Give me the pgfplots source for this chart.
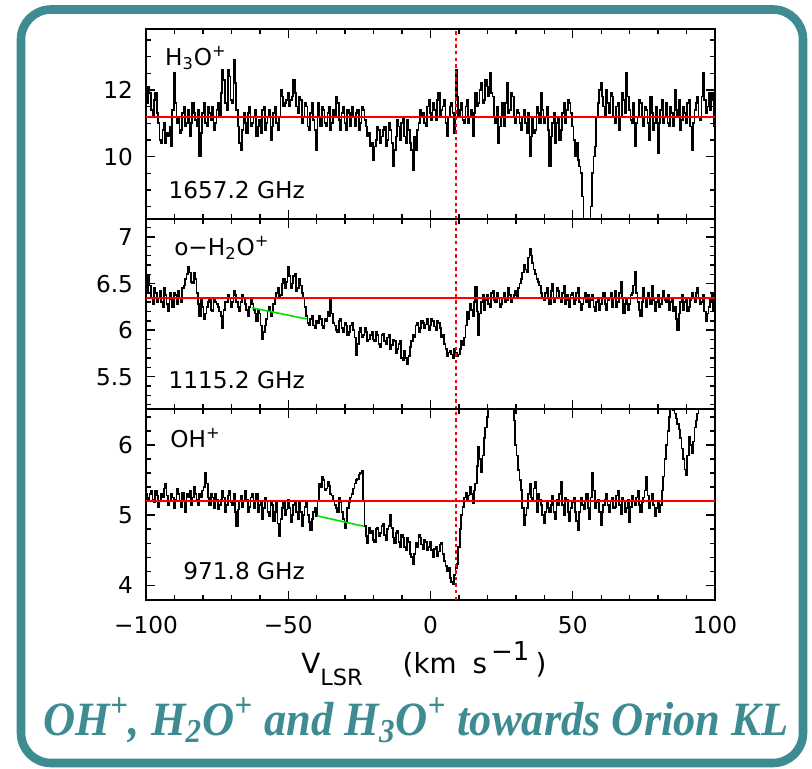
\documentclass[border=0pt]{standalone}
\usepackage{pgfplots}
\pgfplotsset{compat=1.18}
\usepackage{pgfplotstable}
\usepackage{fontspec}
\setmainfont{DejaVu Sans}
\newfontfamily\titlefont{Liberation Serif}[FakeStretch=0.93]
\definecolor{frameteal}{RGB}{62,140,146}
\definecolor{specgreen}{RGB}{0,225,0}
\definecolor{specred}{RGB}{255,0,0}

\pgfplotstableread{
x h3o h2o oh
-100 11.8 6.50 5.30
-99.5 11.6 6.40 5.25
-99 12.1 6.58 5.22
-98.5 11.9 6.48 5.30
-98 11.4 6.35 5.35
-97.5 11.2 6.28 5.22
-97 11.7 6.45 5.18
-96.5 11.9 6.40 5.35
-96 11.3 6.30 5.28
-95.5 11.0 6.35 5.12
-95 10.5 6.42 5.20
-94.5 10.4 6.30 5.30
-94 10.8 6.25 5.25
-93.5 11.0 6.45 5.38
-93 10.4 6.38 5.45
-92.5 10.7 6.28 5.28
-92 10.6 6.20 5.15
-91.5 10.9 6.40 5.20
-91 10.3 6.33 5.30
-90.5 11.4 6.25 5.25
-90 12.5 6.40 5.10
-89.5 11.6 6.38 5.22
-89 11.0 6.28 5.38
-88.5 11.2 6.42 5.30
-88 10.7 6.35 5.20
-87.5 10.8 6.30 5.12
-87 11.3 6.45 5.32
-86.5 11.5 6.48 5.20
-86 10.9 6.55 5.05
-85.5 11.0 6.60 5.30
-85 11.4 6.68 5.25
-84.5 10.6 6.62 5.35
-84 11.0 6.52 5.15
-83.5 11.6 6.50 5.25
-83 11.3 6.62 5.40
-82.5 11.1 6.55 5.30
-82 10.9 6.40 5.22
-81.5 11.4 6.28 5.15
-81 10.0 6.15 5.30
-80.5 10.7 6.32 5.25
-80 11.3 6.25 5.35
-79.5 11.6 6.12 5.40
-79 11.0 6.18 5.60
-78.5 10.9 6.25 5.45
-78 11.5 6.30 5.25
-77.5 11.3 6.35 5.15
-77 11.1 6.22 5.30
-76.5 11.5 6.20 5.25
-76 10.8 6.35 5.10
-75.5 11.0 6.30 5.30
-75 11.4 6.28 5.22
-74.5 11.6 6.25 5.08
-74 11.2 6.20 5.15
-73.5 11.9 6.15 5.22
-73 12.6 6.02 5.35
-72.5 12.3 6.22 5.25
-72 11.6 6.30 5.05
-71.5 11.4 6.30 5.15
-71 12.6 6.38 5.28
-70.5 12.4 6.35 5.35
-70 11.7 6.25 5.18
-69.5 11.6 6.30 5.15
-69 12.9 6.42 5.30
-68.5 12.2 6.38 5.05
-68 11.4 6.30 4.85
-67.5 10.9 6.25 5.08
-67 10.4 6.20 5.20
-66.5 10.2 6.30 5.28
-66 10.8 6.38 5.12
-65.5 11.3 6.35 5.20
-65 11.0 6.28 5.35
-64.5 10.7 6.22 5.22
-64 11.3 6.15 5.05
-63.5 11.5 6.25 5.12
-63 10.9 6.32 5.25
-62.5 11.0 6.28 5.30
-62 11.2 6.22 5.10
-61.5 11.4 6.18 5.20
-61 10.6 6.10 5.30
-60.5 10.9 6.22 5.05
-60 11.1 6.18 5.15
-59.5 10.7 6.05 5.20
-59 11.4 5.90 4.95
-58.5 11.5 5.98 5.10
-58 10.8 6.05 5.25
-57.5 11.0 6.12 5.20
-57 11.2 6.20 5.05
-56.5 11.4 6.25 4.98
-56 10.5 6.15 5.20
-55.5 10.9 6.20 5.15
-55 11.3 6.28 4.92
-54.5 11.5 6.35 5.05
-54 11.0 6.40 5.18
-53.5 10.8 6.45 4.88
-53 11.2 6.35 4.70
-52.5 12.0 6.38 4.95
-52 11.8 6.50 5.10
-51.5 11.5 6.55 5.18
-51 11.6 6.45 5.00
-50.5 11.7 6.52 5.08
-50 11.9 6.68 5.22
-49.5 11.5 6.58 5.10
-49 11.7 6.45 4.90
-48.5 11.8 6.50 5.00
-48 12.3 6.58 5.15
-47.5 11.9 6.60 5.20
-47 11.5 6.42 5.05
-46.5 11.3 6.45 4.95
-46 11.8 6.55 5.20
-45.5 11.7 6.48 5.05
-45 11.0 6.40 4.85
-44.5 11.2 6.35 5.00
-44 11.6 6.25 5.12
-43.5 11.5 6.15 5.18
-43 10.9 6.08 5.00
-42.5 10.8 6.05 4.90
-42 11.3 6.12 4.78
-41.5 11.6 6.15 4.95
-41 11.1 6.05 5.05
-40.5 10.8 6.02 5.10
-40 10.2 6.10 4.98
-39.5 11.6 6.08 5.20
-39 11.2 6.15 5.45
-38.5 10.9 6.12 5.40
-38 11.5 6.05 5.55
-37.5 11.4 6.02 5.50
-37 11.0 6.12 5.35
-36.5 10.9 6.10 5.38
-36 11.3 6.20 5.48
-35.5 11.5 6.15 5.42
-35 10.8 6.32 5.30
-34.5 11.0 6.18 5.28
-34 11.4 6.08 5.20
-33.5 11.2 6.05 5.15
-33 11.8 6.00 5.10
-32.5 11.6 5.98 5.05
-32 11.1 6.10 5.25
-31.5 10.8 6.12 5.18
-31 11.3 6.02 5.05
-30.5 11.5 5.98 4.95
-30 11.0 6.08 4.82
-29.5 10.8 6.05 4.90
-29 11.4 5.95 5.10
-28.5 11.3 5.98 5.18
-28 10.9 6.05 5.25
-27.5 11.5 6.08 5.30
-27 11.2 6.00 5.38
-26.5 10.9 5.92 5.45
-26 11.3 5.73 5.50
-25.5 11.4 5.85 5.52
-25 10.8 5.98 5.58
-24.5 11.0 6.02 5.60
-24 11.5 5.92 5.63
-23.5 11.4 5.95 5.20
-23 11.1 6.02 4.85
-22.5 10.9 5.98 4.70
-22 10.6 5.88 4.60
-21.5 10.7 5.90 4.82
-21 10.3 5.95 4.75
-20.5 10.4 5.98 4.78
-20 9.9 5.90 4.65
-19.5 10.3 5.88 4.62
-19 10.5 5.98 4.80
-18.5 10.9 5.95 4.82
-18 10.8 5.85 4.70
-17.5 10.4 5.82 4.75
-17 10.6 5.95 4.85
-16.5 10.8 5.96 4.88
-16 10.9 5.88 4.72
-15.5 10.3 5.85 4.65
-15 10.5 5.92 4.80
-14.5 11.0 5.95 4.85
-14 10.8 5.80 5.00
-13.5 10.4 5.84 4.82
-13 9.7 5.90 4.68
-12.5 10.2 5.88 4.60
-12 10.6 5.75 4.75
-11.5 11.1 5.80 4.78
-11 10.9 5.85 4.62
-10.5 10.5 5.88 4.55
-10 11.0 5.70 4.72
-9.5 11.2 5.68 4.68
-9 10.6 5.78 4.55
-8.5 10.4 5.70 4.50
-8 11.1 5.64 4.68
-7.5 10.8 5.72 4.62
-7 10.4 5.82 4.45
-6.5 10.2 5.88 4.40
-6 9.6 5.95 4.30
-5.5 10.6 5.92 4.45
-5 10.2 6.05 4.60
-4.5 10.8 6.08 4.55
-4 11.0 5.98 4.72
-3.5 11.4 6.02 4.68
-3 11.2 6.10 4.58
-2.5 11.3 6.08 4.52
-2 11.0 6.02 4.65
-1.5 10.9 6.06 4.62
-1 11.5 6.12 4.50
-0.5 11.7 6.00 4.55
0 11.3 6.05 4.62
0.5 11.1 6.12 4.50
1 11.6 6.10 4.40
1.5 11.4 6.04 4.52
2 11.1 6.00 4.55
2.5 11.7 6.10 4.42
3 11.9 6.08 4.48
3.5 11.2 6.02 4.58
4 11.4 5.92 4.60
4.5 11.5 5.95 4.45
5 11.7 5.85 4.35
5.5 11.0 5.80 4.28
6 10.6 5.72 4.20
6.5 11.2 5.76 4.25
7 11.5 5.78 4.10
7.5 11.6 5.74 4.05
8 11.3 5.70 4.02
8.5 10.7 5.80 4.15
9 12.6 5.76 4.25
9.5 11.8 5.72 4.30
10 11.2 5.74 4.55
10.5 11.4 5.80 4.80
11 11.6 5.88 5.00
11.5 11.1 5.84 5.12
12 11.0 5.92 5.25
12.5 11.5 6.05 5.32
13 11.7 6.20 5.20
13.5 11.0 6.12 5.28
14 11.2 6.28 5.40
14.5 11.4 6.22 5.30
15 10.6 6.15 5.17
15.5 11.3 6.30 5.35
16 11.9 6.46 5.45
16.5 11.5 6.20 5.70
17 11.6 5.95 5.98
17.5 12.0 6.18 5.80
18 12.2 6.30 5.62
18.5 11.6 6.38 5.85
19 11.7 6.22 6.10
19.5 12.3 6.32 6.25
20 12.1 6.38 6.40
20.5 11.8 6.28 6.55
21 12.5 6.25 6.70
21.5 11.9 6.40 6.85
22 11.8 6.42 7.00
22.5 11.2 6.32 7.10
23 11.0 6.30 7.30
23.5 11.5 6.40 7.40
24 10.4 6.35 7.50
24.5 10.9 6.25 7.50
25 11.2 6.28 7.40
25.5 11.6 6.35 7.30
26 10.9 6.40 7.20
26.5 11.6 6.30 7.10
27 12.2 6.32 7.00
27.5 11.3 6.45 6.90
28 11.4 6.38 6.80
28.5 11.9 6.30 6.70
29 11.8 6.35 6.60
29.5 11.2 6.38 6.35
30 11.0 6.42 6.00
30.5 11.4 6.35 5.85
31 11.3 6.45 5.64
31.5 11.0 6.50 5.50
32 10.8 6.55 5.36
32.5 11.2 6.62 5.10
33 11.4 6.70 4.86
33.5 11.0 6.65 5.00
34 10.7 6.62 5.10
34.5 11.3 6.78 5.30
35 10.0 6.87 5.45
35.5 10.6 6.80 5.25
36 11.2 6.72 5.20
36.5 10.7 6.65 5.38
37 10.8 6.60 5.48
37.5 11.5 6.55 5.05
38 11.3 6.52 5.30
38.5 11.0 6.48 5.22
39 11.9 6.40 5.15
39.5 11.4 6.35 5.00
40 11.0 6.32 4.88
40.5 11.2 6.40 5.05
41 11.5 6.45 5.20
41.5 10.8 6.35 5.10
42 9.7 6.28 5.05
42.5 10.6 6.42 5.15
43 11.0 6.50 5.28
43.5 11.3 6.30 5.05
44 10.4 6.35 4.95
44.5 11.0 6.45 5.22
45 11.2 6.42 5.15
45.5 10.5 6.35 5.30
46 10.8 6.30 5.48
46.5 11.3 6.40 5.15
47 11.6 6.48 5.00
47.5 11.0 6.28 5.25
48 11.4 6.38 5.22
48.5 11.7 6.32 5.05
49 11.6 6.25 4.92
49.5 11.3 6.38 5.10
50 10.9 6.40 5.18
50.5 10.5 6.28 5.25
51 10.0 6.32 5.05
51.5 10.4 6.40 4.92
52 9.9 6.45 4.79
52.5 9.7 6.30 5.05
53 9.5 6.22 5.25
53.5 8.8 6.28 5.15
54 7.2 6.35 5.08
54.5 7.0 6.40 5.20
55 7.0 6.30 5.30
55.5 7.1 6.38 5.10
56 7.3 6.25 4.95
56.5 8.5 6.32 5.25
57 9.5 6.38 5.60
57.5 10.0 6.25 5.35
58 10.3 6.20 5.10
58.5 11.2 6.30 5.18
59 11.6 6.32 5.22
59.5 12.0 6.22 5.05
60 12.2 6.28 4.86
60.5 11.8 6.35 5.05
61 11.5 6.40 5.15
61.5 11.2 6.28 5.22
62 12.0 6.22 5.30
62.5 11.6 6.32 5.15
63 11.3 6.35 5.05
63.5 11.9 6.40 5.20
64 11.8 6.25 5.25
64.5 11.2 6.35 5.10
65 11.0 6.42 5.12
65.5 11.5 6.25 5.28
66 11.6 6.30 5.35
66.5 10.8 6.40 5.15
67 11.2 6.52 5.02
67.5 11.9 6.35 5.25
68 11.7 6.18 5.20
68.5 11.3 6.28 5.05
69 12.5 6.35 5.10
69.5 11.8 6.22 5.22
70 11.4 6.28 4.90
70.5 11.1 6.38 5.12
71 11.0 6.40 5.28
71.5 11.6 6.48 5.20
72 10.3 6.63 5.15
72.5 11.0 6.40 5.25
73 11.2 6.30 5.35
73.5 11.7 6.22 5.15
74 11.6 6.15 5.05
74.5 11.2 6.30 5.18
75 10.9 6.45 5.25
75.5 11.5 6.35 5.35
76 11.4 6.25 5.55
76.5 11.0 6.40 5.28
77 10.5 6.35 5.10
77.5 11.8 6.28 5.20
78 11.3 6.48 5.30
78.5 10.8 6.32 5.15
79 11.0 6.20 4.98
79.5 11.5 6.30 5.10
80 10.1 6.38 5.20
80.5 11.0 6.25 5.05
81 11.4 6.28 5.15
81.5 11.7 6.35 5.35
82 11.0 6.42 5.55
82.5 11.2 6.32 5.80
83 11.6 6.30 6.00
83.5 11.0 6.38 6.20
84 10.9 6.22 6.40
84.5 11.5 6.30 6.55
85 11.3 6.35 6.60
85.5 10.9 6.20 6.50
86 12.0 6.25 6.45
86.5 11.4 6.12 6.38
87 11.2 6.00 6.30
87.5 11.7 6.18 6.22
88 10.8 6.30 6.10
88.5 11.1 6.38 5.95
89 11.5 6.22 5.80
89.5 11.3 6.30 5.65
90 11.0 6.35 5.57
90.5 11.6 6.20 5.85
91 11.7 6.25 6.12
91.5 10.9 6.32 6.00
92 10.2 6.40 5.88
92.5 11.0 6.35 6.05
93 11.4 6.30 6.25
93.5 11.6 6.40 6.35
94 11.8 6.45 6.45
94.5 11.2 6.35 6.60
95 11.1 6.28 6.70
95.5 11.8 6.30 6.80
96 12.5 6.38 6.90
96.5 11.7 6.20 7.00
97 11.3 6.10 7.00
97.5 11.5 6.18 7.00
98 11.9 6.25 7.00
98.5 11.4 6.32 7.00
99 11.9 6.40 7.00
99.5 11.7 6.22 7.00
100 10.9 6.30 7.00
}\spec

\newcommand\lblfont{\fontsize{11.6}{14}\selectfont}

\pgfplotsset{
  specax/.style={
    scale only axis, width=284.5pt, height=95pt,
    xmin=-100, xmax=100,
    xtick={-100,-50,0,50,100}, minor x tick num=4,
    major tick length=4.5pt, minor tick length=2.5pt,
    every tick/.style={black, line width=0.7pt},
    axis line style={line width=0.9pt},
    xticklabels={},
    /pgf/number format/assume math mode=true,
    tick label style={font=\lblfont},
    yticklabel style={xshift=-3pt},
    xticklabel style={yshift=-4.5pt},
  },
  spec/.style={black, line width=0.85pt, const plot mark mid},
  redbase/.style={draw=specred, line width=0.95pt},
  vdash/.style={draw=specred, line width=0.9pt, dash pattern=on 1.7pt off 1.6pt},
}

\begin{document}
\begin{tikzpicture}[x=0.5pt,y=0.5pt]
\useasboundingbox (0,0) rectangle (812,768);
\draw[frameteal, line width=4.3pt, rounded corners=15pt] (21,758.5) rectangle (803,5);

% top panel
\begin{axis}[specax, at={(73pt,274.35pt)}, anchor=south west,
  ymin=8.12, ymax=13.82, ytick={10,12},
  minor ytick={8.5,9,9.5,10.5,11,11.5,12.5,13,13.5}]
\addplot[spec] table[x=x,y=h3o]{\spec};
\addplot[redbase] coordinates {(-100,11.2) (100,11.2)};
\addplot[vdash] coordinates {(9,8.12) (9,13.82)};
\node[anchor=base west, inner sep=0, font=\lblfont] at (rel axis cs:0.033,0.81) {H\textsubscript{3}O\textsuperscript{+}};
\node[anchor=base west, inner sep=0, font=\lblfont] at (rel axis cs:0.039,0.11) {1657.2 GHz};
\end{axis}

% middle panel
\begin{axis}[specax, at={(73pt,179.35pt)}, anchor=south west,
  ymin=5.15, ymax=7.19, ytick={5.5,6,6.5,7},
  minor ytick={5.2,5.3,5.4,5.6,5.7,5.8,5.9,6.1,6.2,6.3,6.4,6.6,6.7,6.8,6.9,7.1}]
\addplot[spec] table[x=x,y=h2o]{\spec};
\addplot[redbase] coordinates {(-100,6.345) (100,6.345)};
\addplot[vdash] coordinates {(9,5.15) (9,7.19)};
\addplot[draw=specgreen, line width=0.8pt] coordinates {(-62.8,6.24) (-43.5,6.12)};
\node[anchor=base west, inner sep=0, font=\lblfont] at (rel axis cs:0.049,0.81) {o−H\textsubscript{2}O\textsuperscript{+}};
\node[anchor=base west, inner sep=0, font=\lblfont] at (rel axis cs:0.039,0.11) {1115.2 GHz};
\end{axis}

% bottom panel
\begin{axis}[specax, at={(73pt,84pt)}, anchor=south west, height=95.35pt,
  ymin=3.79, ymax=6.51, ytick={4,5,6},
  minor ytick={3.8,4.2,4.4,4.6,4.8,5.2,5.4,5.6,5.8,6.2,6.4},
  xticklabels={−100,−50,0,50,100}]
\addplot[spec] table[x=x,y=oh]{\spec};
\addplot[redbase] coordinates {(-100,5.2) (100,5.2)};
\addplot[vdash] coordinates {(9,3.79) (9,6.51)};
\addplot[draw=specgreen, line width=0.8pt] coordinates {(-39.8,4.99) (-23.3,4.84)};
\node[anchor=base west, inner sep=0, font=\lblfont] at (rel axis cs:0.042,0.80) {OH\textsuperscript{+}};
\node[anchor=base west, inner sep=0, font=\lblfont] at (rel axis cs:0.065,0.105) {971.8 GHz};
\end{axis}

\node[anchor=base west, inner sep=0, font=\fontsize{13.9}{16}\selectfont] at (301,95) {V\raisebox{-6pt}{\fontsize{11.2}{13}\selectfont LSR}\hspace{20pt}(km\hspace{8pt}s\hspace{2pt}\raisebox{6.5pt}{\fontsize{13}{15}\selectfont −1}\hspace{3pt})};

\node[anchor=base, inner sep=0, text=frameteal, font=\titlefont\bfseries\itshape\fontsize{23.9}{28}\selectfont] at (416,33) {OH\textsuperscript{+}, H\textsubscript{2}O\textsuperscript{+} and H\textsubscript{3}O\textsuperscript{+} towards Orion KL};
\end{tikzpicture}
\end{document}
